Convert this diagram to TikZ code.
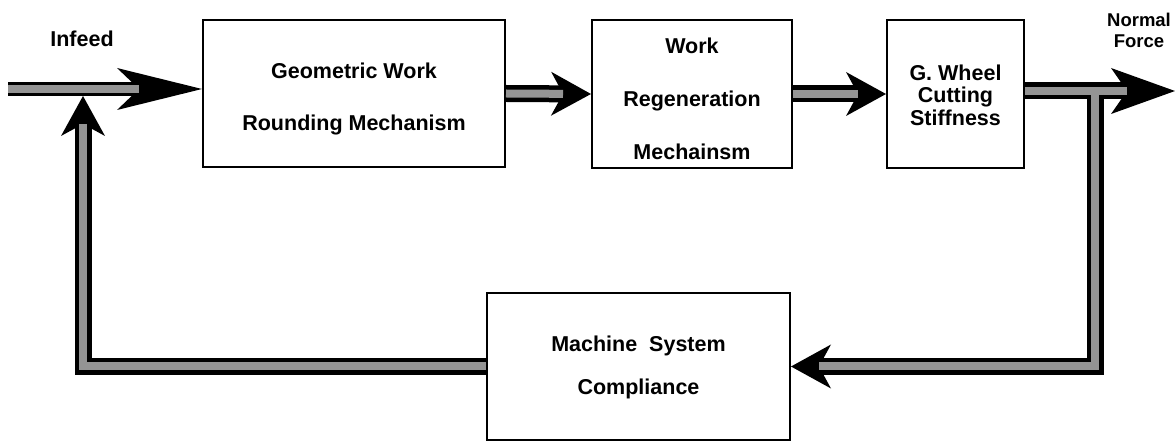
\documentclass[tikz,border=0pt]{standalone}
\usepackage{fontspec}
\setmainfont{Liberation Sans}
\usetikzlibrary{arrows.meta}
\begin{document}
\begin{tikzpicture}[x=1pt,y=-1pt,
  box/.style={draw, line width=2pt, inner sep=0pt},
  txt/.style={align=center, inner sep=0pt,
    font=\bfseries\fontsize{21.5}{#1}\selectfont},
  lbl/.style={align=center, inner sep=0pt, font=\bfseries\fontsize{#1}{#1}\selectfont},
  band/.style n args={4}{draw=black, line width=#3, line join=miter,
    -{Stealth[length=#1, width=#2, inset=#4, line width=0pt]},
    postaction={draw=black!42, line width=8pt, -, shorten <=0pt, shorten >=#1-#4}}
]
\useasboundingbox (0,0) rectangle (1175,443);

\node[box, minimum width=302pt, minimum height=147pt] (b1) at (354,93.5) {};
\node[box, minimum width=200pt, minimum height=148pt] (b2) at (692,94) {};
\node[box, minimum width=137pt, minimum height=148pt] (b3) at (955.5,94) {};
\node[box, minimum width=303pt, minimum height=147pt] (b4) at (638.5,366.5) {};

\node[txt=52] (t1) at ([yshift=-5pt]b1.center) {Geometric Work\\Rounding Mechanism};
\node[txt=53] (t2) at ([yshift=-4.5pt]b2.center) {Work\\Regeneration\\Mechainsm};
\node[txt=22.5] (t3) at ([yshift=-1pt]b3.center) {G. Wheel\\Cutting\\Stiffness};
\node[txt=43] (t4) at ([yshift=-0.5pt]b4.center) {Machine\ \ System\\Compliance};

\node[lbl=21.5] (lin) at (82,39) {Infeed};
\node[lbl=18.5, font=\bfseries\fontsize{18.5}{21}\selectfont] (lnf) at (1139,30) {Normal\\Force};

\coordinate (inS) at (8,89);
\coordinate (outE) at (1175,91);
\coordinate (br) at (1095,91);
\coordinate (fbT) at (83,96);

\draw[band={85pt}{42pt}{14pt}{22pt}] (inS) -- (inS -| b1.west);
\draw[band={40pt}{44pt}{17pt}{12pt}] (b1.east) -- (b2.west);
\draw[band={40pt}{44pt}{17pt}{12pt}] (b2.east) -- (b3.west);
\draw[band={64pt}{46pt}{17pt}{16pt}] (b3.east |- outE) -- (outE);
\draw[band={40pt}{44pt}{17pt}{12pt}, shorten <=4pt] (br) |- (b4.east);
\draw[band={40pt}{44pt}{17pt}{12pt}] (b4.west) -| (fbT);
\end{tikzpicture}
\end{document}
